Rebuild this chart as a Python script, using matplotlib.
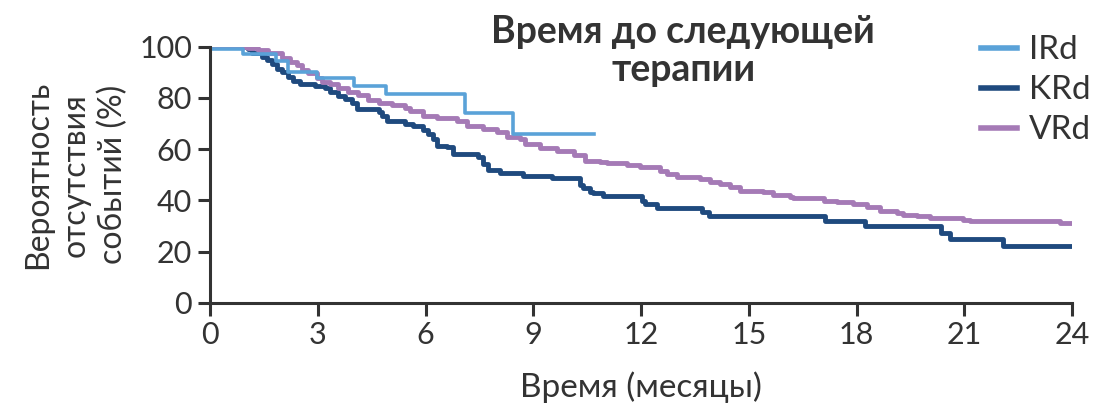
import matplotlib
matplotlib.use('Agg')
import matplotlib.pyplot as plt

# Kaplan-Meier steps: months and survival (%)
ird_t = [0, 0.92, 1.84, 2.17, 2.98, 4.0, 4.9, 7.1, 8.44, 10.7]
ird_s = [99, 97, 94.5, 90, 87.6, 84.8, 81.5, 74.3, 66, 66]

krd_t = [0, 1.06, 1.16, 1.44, 1.58, 1.72, 1.86, 2.0, 2.18, 2.32, 2.51, 2.92, 3.2,
         3.34, 3.57, 3.76, 3.95, 4.08, 4.69, 4.78, 4.92, 5.43, 5.66, 5.94, 6.08,
         6.22, 6.31, 6.59, 6.77, 7.47, 7.61, 7.75, 8.07, 8.72, 9.51, 10.3, 10.39,
         10.58, 10.67, 10.95, 12.02, 12.11, 12.44, 13.69, 13.88, 17.12, 18.23,
         20.34, 20.6, 22.07, 24.0]
krd_s = [100, 99, 97.4, 96, 94.7, 93.4, 91.4, 90, 88.1, 86.8, 85.5, 84.8, 84,
         82.2, 80.8, 79.5, 78.2, 75.6, 74.6, 73, 71, 69.7, 68.9, 67.6, 66,
         64, 61.4, 60.7, 58.2, 56.9, 54.3, 51.7, 50.7, 49.6, 48.6, 46, 44.7,
         43.4, 42.7, 41.5, 39.9, 38.6, 37.1, 35.5, 33.9, 31.8, 30.0,
         27.3, 24.9, 22.1, 22.1]

vrd_t = [0, 1.07, 1.34, 1.62, 2.0, 2.23, 2.41, 2.55, 2.74, 2.97, 3.11, 3.34, 3.57,
         3.85, 4.13, 4.41, 4.69, 5.06, 5.43, 5.57, 5.94, 6.31, 6.87, 7.15, 7.61,
         7.98, 8.26, 8.63, 8.77, 9.19, 9.65, 10.12, 10.44, 10.86, 11.04, 11.6,
         11.97, 12.53, 12.71, 12.99, 13.64, 13.92, 14.2, 14.48, 14.75, 15.4,
         15.68, 16.15, 16.24, 17.08, 17.45, 17.91, 18.28, 18.65, 19.12, 19.3,
         19.68, 20.04, 20.97, 21.16, 23.66, 24.0]
vrd_s = [100, 99.5, 98.7, 97.4, 95.5, 94.1, 92.8, 90.8, 89.6, 87.6, 86.3, 85.4, 83.7,
         82.4, 81.1, 79.2, 78.1, 77.2, 75.9, 75, 73, 72.1, 70.8, 69.1, 67.8,
         66.5, 64.9, 63.9, 61.9, 60.6, 59.3, 57.7, 55.4, 54.8, 54.4, 53.8,
         52.9, 51.6, 50.3, 49.2, 48.3, 47.3, 46.4, 45.3, 43.8, 43.1,
         42.1, 41.1, 40.8, 39.9, 39.3, 38.6, 37.3, 36, 35.1, 34.3,
         33.8, 33.2, 32.4, 31.8, 31.3, 31.3]

x_ticks = [0, 3, 6, 9, 12, 15, 18, 21, 24]
y_ticks = [0, 20, 40, 60, 80, 100]

colors = {'IRd': '#5aa2d8', 'KRd': '#1f4a7e', 'VRd': '#a57ab6'}
dark = '#333333'

plt.rcParams['font.family'] = ['Lato', 'DejaVu Sans']

fig = plt.figure(figsize=(10.94, 4.05), dpi=100)
ax = fig.add_axes([0.192, 0.2526, 0.788, 0.632])

ax.step([0] + krd_t, [100] + krd_s, where='post', color=colors['KRd'], lw=3.5)
ax.step([0] + vrd_t, [100] + vrd_s, where='post', color=colors['VRd'], lw=3.5)
ax.step([0] + ird_t, [100] + ird_s, where='post', color=colors['IRd'], lw=2.6)

ax.set_xlim(0, 24)
ax.set_ylim(0, 100)
ax.set_xticks(x_ticks)
ax.set_yticks(y_ticks)
ax.tick_params(colors=dark, labelsize=22, width=2.2, length=9, pad=4)
for side in ['top', 'right']:
    ax.spines[side].set_visible(False)
for side in ['left', 'bottom']:
    ax.spines[side].set_color(dark)
    ax.spines[side].set_linewidth(2.2)

ax.set_xlabel('Время (месяцы)', fontsize=24, color=dark, labelpad=16)
ax.set_ylabel('Вероятность\nотсутствия\nсобытий (%)', fontsize=23, color=dark,
              labelpad=8, linespacing=1.3)

ax.text(0.549, 0.983, 'Время до следующей\nтерапии', transform=ax.transAxes,
        ha='center', va='center', fontsize=27, fontweight='bold', color=dark,
        linespacing=1.15)

handles = [plt.Line2D([], [], color=colors[k], lw=4) for k in ['IRd', 'KRd', 'VRd']]
fig.legend(handles, ['IRd', 'KRd', 'VRd'], loc='upper left',
           bbox_to_anchor=(0.875, 0.97), frameon=False, fontsize=24,
           handlelength=1.1, handletextpad=0.35, labelspacing=0.3,
           labelcolor=dark, borderpad=0.2)

fig.savefig('out.png', dpi=100)
